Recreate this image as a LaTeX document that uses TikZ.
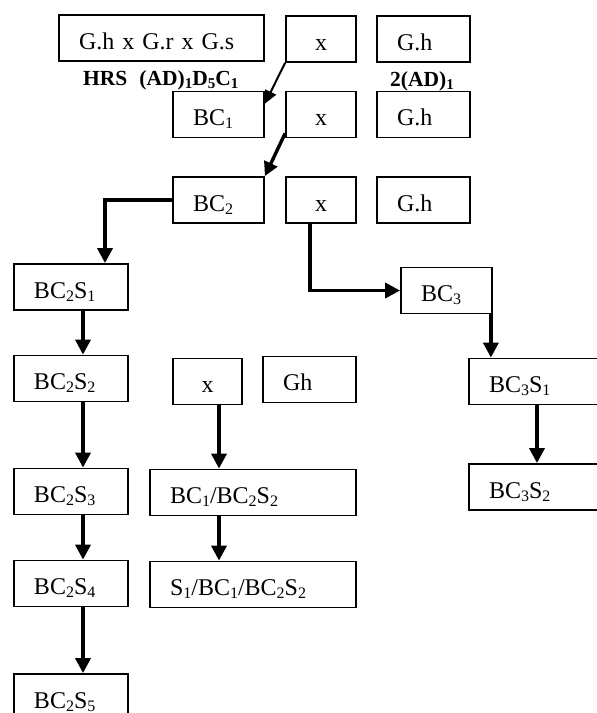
\documentclass[tikz,border=0pt]{standalone}
\usepackage{fontspec}
\setmainfont{Liberation Serif}
\usetikzlibrary{arrows.meta,calc}
\newcommand\sbs[1]{\raisebox{-3pt}{\fontsize{16}{16}\selectfont #1}}
\newcommand\sbb[1]{\raisebox{-3pt}{\fontsize{15}{15}\selectfont\bfseries #1}}
\begin{document}
\begin{tikzpicture}[x=1pt,y=-1pt,
  box/.style={draw, line width=1.8pt, inner xsep=20pt, inner ysep=0pt,
    minimum height=46pt, text height=22pt, text depth=0pt, align=left,
    font=\fontsize{24}{28}\selectfont},
  xbox/.style={box, align=center},
  lbl/.style={font=\fontsize{21.5}{24}\selectfont\bfseries, inner sep=0pt, anchor=base west},
  conn/.style={line width=3.6pt, -{Triangle[length=15pt,width=15pt]}},
  diagA/.style={line width=2pt, -{Triangle[length=13pt,width=12pt]}},
  diagB/.style={line width=3.4pt, -{Triangle[length=14pt,width=14pt]}}]
\useasboundingbox (0,0) rectangle (597,713);
\fill[white] (0,0) rectangle (597,713);
% row 1
\node[box, text width=165pt] (ghrs) at (161.5,38) {G.h x G.r x G.s};
\node[xbox, text width=30pt] (x1) at (321,39) {x};
\node[box, text width=53pt] (gh1) at (423.5,39) {G.h};
\node[lbl] (hrs) at (83,85) {HRS\hspace{12pt}(AD)\sbb{1}D\sbb{5}C\sbb{1}};
\node[lbl] (ad2) at (390,86) {2(AD)\sbb{1}};
% row 2
\node[box, text width=51pt] (bc1) at (218.5,114.5) {BC\sbs{1}};
\node[xbox, text width=30pt] (x2) at (321,114.5) {x};
\node[box, text width=53pt] (gh2) at (423.5,114.5) {G.h};
% row 3
\node[box, text width=51pt] (bc2) at (218.5,200) {BC\sbs{2}};
\node[xbox, text width=30pt] (x3) at (321,200) {x};
\node[box, text width=53pt] (gh3) at (423.5,200) {G.h};
% lower part
\node[box, text width=74pt] (bc2s1) at (71,287) {BC\sbs{2}S\sbs{1}};
\node[box, text width=51pt] (bc3) at (446.5,290.5) {BC\sbs{3}};
\node[box, text width=74pt] (bc2s2) at (71,378.5) {BC\sbs{2}S\sbs{2}};
\node[xbox, text width=29pt] (x4) at (207.5,381.5) {x};
\node[box, text width=53pt] (gh4) at (309.5,379.5) {Gh};
\node[box, text width=121pt] (bc3s1) at (549.5,381.5) {BC\sbs{3}S\sbs{1}};
\node[box, text width=121pt] (bc3s2) at (549.5,487) {BC\sbs{3}S\sbs{2}};
\node[box, text width=74pt] (bc2s3) at (71,491.5) {BC\sbs{2}S\sbs{3}};
\node[box, text width=166pt] (bcbc) at (253,492.5) {BC\sbs{1}/BC\sbs{2}S\sbs{2}};
\node[box, text width=74pt] (bc2s4) at (71,583.5) {BC\sbs{2}S\sbs{4}};
\node[box, text width=166pt] (sbcbc) at (253,584.5) {S\sbs{1}/BC\sbs{1}/BC\sbs{2}S\sbs{2}};
\node[box, text width=74pt] (bc2s5) at (71,697) {BC\sbs{2}S\sbs{5}};
% helper coordinates
\coordinate (d1) at ([yshift=-13pt]bc1.north east);
\coordinate (d2) at ([yshift=5pt]x2.south west);
\coordinate (c2) at ([xshift=34pt]bc2s1.north);
\coordinate (c3) at ([xshift=-11pt]x3.south);
\coordinate (c4) at ([xshift=-2pt]bc3.south east);
\coordinate (c5) at ([xshift=-12.5pt]bc3s1.south);
\coordinate (cl) at ([xshift=12pt]bc2s1.south);
\coordinate (cx) at ([xshift=11.5pt]x4.south);
% connectors
\draw[diagA] (x1.south west) -- (d1);
\draw[diagB] (d2) -- (bc2.north east);
\draw[conn] (bc2.west) -| (c2);
\draw[conn] (c3) |- (bc3.west);
\draw[conn] (c4) -- (c4 |- bc3s1.north);
\draw[conn] (c5) -- (c5 |- bc3s2.north);
\draw[conn] (cl) -- (cl |- bc2s2.north);
\draw[conn] (cl |- bc2s2.south) -- (cl |- bc2s3.north);
\draw[conn] (cl |- bc2s3.south) -- (cl |- bc2s4.north);
\draw[conn] (cl |- bc2s4.south) -- (cl |- bc2s5.north);
\draw[conn] (cx) -- (cx |- bcbc.north);
\draw[conn] (cx |- bcbc.south) -- (cx |- sbcbc.north);
\end{tikzpicture}
\end{document}
